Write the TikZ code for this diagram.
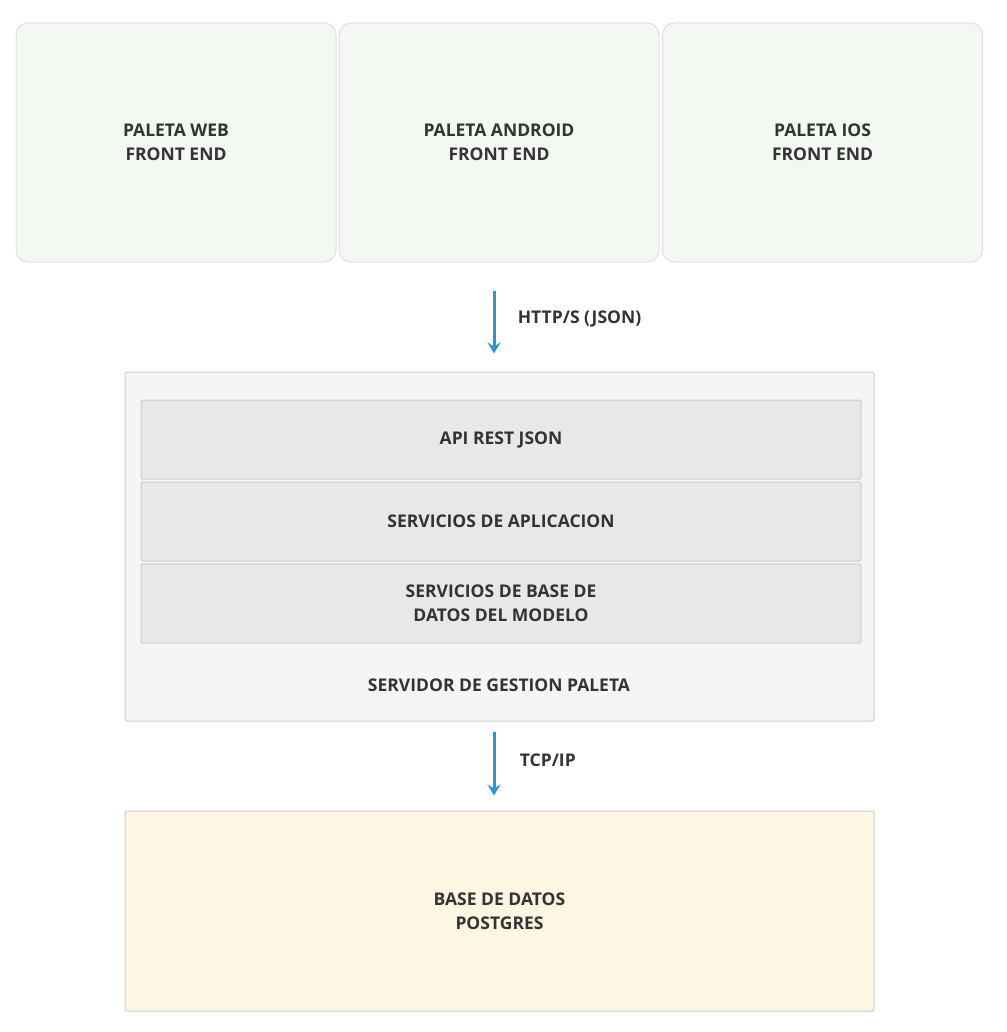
\documentclass[tikz,border=0pt]{standalone}
\usepackage{fontspec}
\setmainfont{Open Sans}
\usetikzlibrary{arrows.meta}

\definecolor{txtgray}{HTML}{333333}
\definecolor{edgegray}{HTML}{CCCCCC}
\definecolor{frontfill}{HTML}{F3F8F3}
\definecolor{frontedge}{HTML}{E0E0E0}
\definecolor{serverfill}{HTML}{F5F5F5}
\definecolor{layerfill}{HTML}{E8E8E8}
\definecolor{dbfill}{HTML}{FDF6E3}
\definecolor{flowblue}{HTML}{2E95D0}

\begin{document}
\begin{tikzpicture}[x=1pt,y=-1pt,
    font=\fontsize{17.5}{24}\selectfont\bfseries, text=txtgray,
    front/.style ={rectangle, rounded corners=12pt, draw=frontedge, fill=frontfill, line width=1pt,
                   minimum width=320pt, minimum height=239pt, align=center, inner sep=0pt},
    server/.style={rectangle, rounded corners=2pt, draw=edgegray, fill=serverfill, line width=1pt,
                   minimum width=749pt, minimum height=349pt, inner sep=0pt},
    layer/.style ={rectangle, rounded corners=2pt, draw=edgegray, fill=layerfill, line width=1pt,
                   minimum width=720pt, minimum height=79pt, align=center, inner sep=0pt},
    store/.style ={rectangle, rounded corners=2pt, draw=edgegray, fill=dbfill, line width=1pt,
                   minimum width=749pt, minimum height=200pt, align=center, inner sep=0pt},
    flow/.style  ={draw=flowblue, line width=3pt, -{Stealth[length=11pt,width=13pt,inset=4pt]}}]
   \useasboundingbox (0,0) rectangle (1006,1032);
   % front ends
   \node[front] (web)     at (176,142.5)   {PALETA WEB\\FRONT END};
   \node[front] (android) at (499,142.5)   {PALETA ANDROID\\FRONT END};
   \node[front] (ios)     at (822.5,142.5) {PALETA IOS\\FRONT END};
   % server
   \node[server] (server) at (499.5,546.5) {};
   \node[layer] (api)      at (501,439.5) {API REST JSON};
   \node[layer] (services) at (501,521.5) {SERVICIOS DE APLICACION};
   \node[layer] (model)    at (501,603.5) {SERVICIOS DE BASE DE\\DATOS DEL MODELO};
   \node (srvname) at (499,685) {SERVIDOR DE GESTION PALETA};
   % database
   \node[store] (db) at (499.5,911) {BASE DE DATOS\\POSTGRES};
   % connections
   \coordinate (xa) at (494,0);
   \draw[flow, shorten <=28pt, shorten >=18pt] (android.south -| xa) -- (server.north -| xa)
      node[midway, right=19pt, yshift=-2pt] (http) {HTTP/S (JSON)};
   \draw[flow, shorten <=10pt, shorten >=15pt] (server.south -| xa) -- (db.north -| xa)
      node[midway, right=21pt, yshift=6pt] (tcp) {TCP/IP};
\end{tikzpicture}
\end{document}
